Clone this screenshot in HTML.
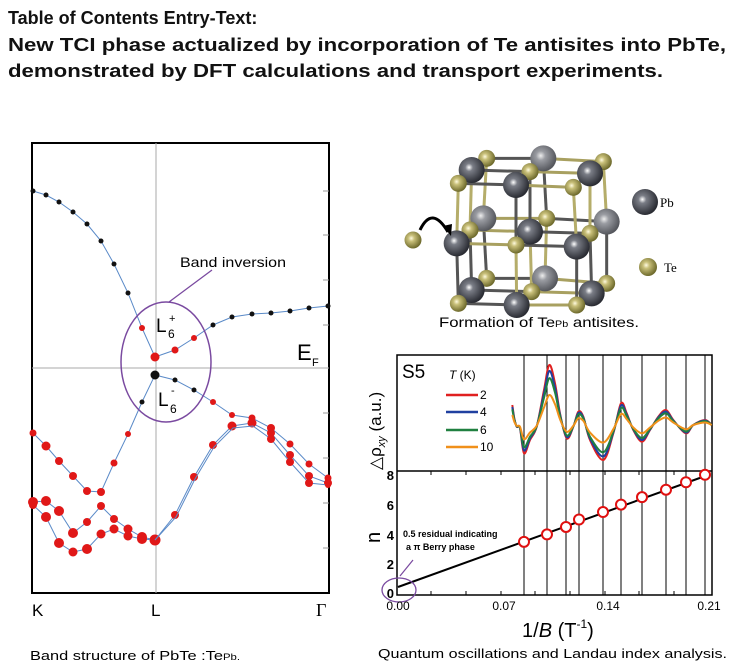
<!DOCTYPE html>
<html><head><meta charset="utf-8"><style>body{margin:0;background:#fff}svg{display:block}</style></head>
<body>
<svg id="s" width="733" height="668" viewBox="0 0 733 668" xmlns="http://www.w3.org/2000/svg" font-family="Liberation Sans, Arial, sans-serif">
<defs>
<radialGradient id="pb" cx="0.4" cy="0.4" r="0.6"><stop offset="0" stop-color="#fff"/><stop offset="0.25" stop-color="#7a7d86"/><stop offset="1" stop-color="#2a2c33"/></radialGradient>
<radialGradient id="pbl" cx="0.4" cy="0.4" r="0.6"><stop offset="0" stop-color="#eee"/><stop offset="0.3" stop-color="#9a9ca2"/><stop offset="1" stop-color="#55575d"/></radialGradient>
<radialGradient id="te" cx="0.4" cy="0.4" r="0.6"><stop offset="0" stop-color="#fffbe0"/><stop offset="0.3" stop-color="#c9c07a"/><stop offset="1" stop-color="#6e6a2c"/></radialGradient>
</defs>
<g font-weight="bold" font-size="18" fill="#111">
<text x="8" y="24">Table of Contents Entry-Text:</text>
<text x="8" y="51" textLength="718" lengthAdjust="spacingAndGlyphs">New TCI phase actualized by incorporation of Te antisites into PbTe,</text>
<text x="8" y="77" textLength="655" lengthAdjust="spacingAndGlyphs">demonstrated by DFT calculations and transport experiments.</text>
</g>
<rect x="32" y="143" width="297" height="450" fill="none" stroke="#000" stroke-width="2"/>
<line x1="156" y1="143" x2="156" y2="593" stroke="#aaa" stroke-width="1"/>
<line x1="32" y1="368" x2="329" y2="368" stroke="#aaa" stroke-width="1"/>
<g id="lt" stroke="#999" stroke-width="1"></g>
<g id="bands"></g>
<ellipse cx="166" cy="362" rx="45" ry="60" fill="none" stroke="#7a4aa0" stroke-width="1.5"/>
<line x1="169" y1="302" x2="212" y2="270" stroke="#7a4aa0" stroke-width="1.3"/>
<text x="180" y="267" font-size="14" textLength="106" lengthAdjust="spacingAndGlyphs">Band inversion</text>
<text x="156" y="332" font-size="19">L</text><text x="169" y="322" font-size="11">+</text><text x="168" y="338" font-size="12">6</text>
<text x="158" y="406" font-size="19">L</text><text x="171" y="394" font-size="11">-</text><text x="170" y="413" font-size="12">6</text>
<text x="297" y="360" font-size="22">E</text><text x="312" y="366" font-size="11">F</text>
<text x="32" y="616" font-size="17">K</text>
<text x="151" y="616" font-size="17">L</text>
<text x="316" y="616" font-size="18" font-family="Liberation Serif, serif">Γ</text>
<text x="30" y="660" font-size="13" textLength="210" lengthAdjust="spacingAndGlyphs">Band structure of PbTe :Te<tspan font-size="9">Pb.</tspan></text>
<g id="cry"></g>
<path d="M420 230 Q432 205 448 232" fill="none" stroke="#000" stroke-width="3"/>
<path d="M443 226 L451 236 L452 224 Z" fill="#000"/>
<circle cx="413" cy="240" r="8.5" fill="url(#te)"/>
<circle cx="645" cy="202" r="13" fill="url(#pb)"/>
<text x="660" y="207" font-size="13" font-family="Liberation Serif, serif">Pb</text>
<circle cx="648" cy="267" r="9" fill="url(#te)"/>
<text x="664" y="272" font-size="13" font-family="Liberation Serif, serif">Te</text>
<text x="439" y="327" font-size="14" textLength="200" lengthAdjust="spacingAndGlyphs">Formation of Te<tspan font-size="9">Pb</tspan> antisites.</text>
<rect x="397" y="355" width="315" height="240" fill="none" stroke="#000" stroke-width="1.5"/>
<line x1="397" y1="471" x2="712" y2="471" stroke="#000" stroke-width="1.5"/>
<g id="vl" stroke="#000" stroke-width="1"></g>
<g id="curves" fill="none" stroke-width="2"></g>
<line x1="398" y1="587" x2="708" y2="475" stroke="#000" stroke-width="2"/>
<g id="pts" fill="#fff" stroke="#e01010" stroke-width="2"></g>
<ellipse cx="399" cy="590" rx="17" ry="12" fill="none" stroke="#7a4aa0" stroke-width="1.3"/>
<line x1="400" y1="576" x2="413" y2="560" stroke="#7a4aa0" stroke-width="1.2"/>
<g font-size="9" font-weight="bold"><text x="403" y="537">0.5 residual indicating</text><text x="406" y="550">a π Berry phase</text></g>
<g font-size="13" font-weight="bold" text-anchor="end"><text x="394" y="480">8</text><text x="394" y="510">6</text><text x="394" y="540">4</text><text x="394" y="569">2</text><text x="394" y="598">0</text></g>
<g font-size="12" text-anchor="middle"><text x="398" y="610">0.00</text><text x="504" y="610">0.07</text><text x="608" y="610">0.14</text><text x="709" y="610">0.21</text></g>
<text x="522" y="637" font-size="20">1/<tspan font-style="italic">B</tspan> (T<tspan font-size="12" dy="-9">-1</tspan><tspan dy="9">)</tspan></text>
<text transform="translate(380,543) rotate(-90)" font-size="20">n</text>
<text transform="translate(381,470) rotate(-90)" font-size="17">△ρ<tspan font-size="11" font-style="italic" dy="4">xy</tspan><tspan dy="-4"> (a.u.)</tspan></text>
<text x="402" y="378" font-size="19">S5</text>
<text x="449" y="379" font-size="12"><tspan font-style="italic">T</tspan> (K)</text>
<g stroke-width="2.5"><line x1="446" y1="395" x2="478" y2="395" stroke="#e02020"/><line x1="446" y1="412" x2="478" y2="412" stroke="#2040a0"/><line x1="446" y1="430" x2="478" y2="430" stroke="#208040"/><line x1="446" y1="447" x2="478" y2="447" stroke="#f0901a"/></g>
<g font-size="12"><text x="480" y="399">2</text><text x="480" y="416">4</text><text x="480" y="434">6</text><text x="480" y="451">10</text></g>
<text x="378" y="658" font-size="13" textLength="349" lengthAdjust="spacingAndGlyphs">Quantum oscillations and Landau index analysis.</text>
</svg>
<script>
var NS="http://www.w3.org/2000/svg";
function el(p,t,a){var e=document.createElementNS(NS,t);for(var k in a)e.setAttribute(k,a[k]);document.getElementById(p).appendChild(e);return e;}
[191,235,280,325,413,458,503,548].forEach(function(y){el("lt","line",{x1:323,y1:y,x2:329,y2:y});});
function band(pts){var d=pts.map(function(p,i){return (i?"L":"M")+p[0]+" "+p[1]}).join(" ");el("bands","path",{d:d,fill:"none",stroke:"#5a8ac8","stroke-width":1});
pts.forEach(function(p){if(p[2])el("bands","circle",{cx:p[0],cy:p[1],r:p[2],fill:p[3]||"#e01818"});});}
var K="#111";
band([[33,191,2.5,K],[46,195,2.5,K],[59,202,2.5,K],[73,212,2.5,K],[87,224,2.5,K],[101,241,2.5,K],[114,264,2.5,K],[128,293,2.5,K],[142,328,3],[155,357,4.5],[175,350,3.5],[194,338,3],[213,325,2.5,K],[232,317,2.5,K],[252,314,2.5,K],[271,313,2.5,K],[290,311,2.5,K],[309,308,2.5,K],[328,306,2.5,K]]);
band([[33,433,3.5],[46,446,4.5],[59,461,4],[73,476,4],[87,491,4],[101,492,4],[114,463,3.5],[128,434,3],[142,402,2.5,K],[155,375,4.5,K],[175,380,2.5,K],[194,390,2.5,K],[213,402,3],[232,415,3],[252,418,3.5],[271,428,4],[290,444,3.5],[309,464,3.5],[328,478,3.5]]);
band([[33,502,5],[46,501,5],[59,511,5],[73,533,5],[87,522,4],[101,506,4],[114,519,4],[128,529,4.5],[142,537,5],[155,540,5.5]]);
band([[33,505,4],[46,517,5],[59,543,5],[73,552,4.5],[87,549,5],[101,534,4.5],[114,529,4.5],[128,536,4.5],[142,539,5],[155,540,5]]);
band([[155,540],[175,515,4],[194,477,4],[213,445,4],[232,426,4.5],[252,423,4.5],[271,433,4],[290,455,4],[309,476,4],[328,483,4]]);
band([[155,540],[176,517],[195,479],[214,447],[233,428],[253,426],[271,439,4],[290,462,4],[309,483,4],[328,485,3]]);
function P(zx,zy){return [zx/3+390,zy/3+130];}
var layers=[
 {pts:[[290,85,'T'],[460,85,'P'],[640,95,'T'],[280,265,'P'],[470,265,'T'],[650,275,'P'],[290,445,'T'],[465,445,'P'],[650,460,'T']]},
 {pts:[[245,120,'P'],[420,125,'T'],[600,130,'P'],[240,300,'T'],[420,305,'P'],[600,310,'T'],[245,480,'P'],[425,485,'T'],[605,490,'P']]},
 {pts:[[205,160,'T'],[378,165,'P'],[550,172,'T'],[200,340,'P'],[378,345,'T'],[560,350,'P'],[205,520,'T'],[380,525,'P'],[560,525,'T']]}];
for(var l=0;l<3;l++){var q=layers[l].pts;for(var i=0;i<9;i++){var a=P(q[i][0],q[i][1]);
 if(i%3<2){var b=P(q[i+1][0],q[i+1][1]);el("cry","line",{x1:a[0],y1:a[1],x2:b[0],y2:b[1],stroke:i%2?"#a8a060":"#555",'stroke-width':3});}
 if(i<6){var b=P(q[i+3][0],q[i+3][1]);el("cry","line",{x1:a[0],y1:a[1],x2:b[0],y2:b[1],stroke:i%2?"#555":"#b5ad6a",'stroke-width':3});}
 if(l<2){var r=layers[l+1].pts[i];var b=P(r[0],r[1]);el("cry","line",{x1:a[0],y1:a[1],x2:b[0],y2:b[1],stroke:"#777",'stroke-width':3});}}}
for(var l=0;l<3;l++){layers[l].pts.forEach(function(p){var c=P(p[0],p[1]);
 if(p[2]=='P')el("cry","circle",{cx:c[0],cy:c[1],r:13,fill:l==0?"url(#pbl)":"url(#pb)"});
 else el("cry","circle",{cx:c[0],cy:c[1],r:8.5,fill:"url(#te)"});});}
var xs=[524,547,566,579,603,621,642,666,686,705];
xs.forEach(function(x,i){el("vl","line",{x1:x,y1:355,x2:x,y2:595});var n=3.5+0.5*i;el("pts","circle",{cx:x,cy:594-n*14.9,r:5});});
[431,466,501,535,570,605,639,674].forEach(function(x){el("vl","line",{x1:x,y1:471,x2:x,y2:475});el("vl","line",{x1:x,y1:595,x2:x,y2:591});});
var raw=[[457,195],[463,235],[470,260],[480,265],[492,340],[510,300],[530,260],[552,150],[568,75],[585,130],[600,220],[620,295],[640,260],[655,215],[670,230],[690,300],[730,360],[760,280],[783,190],[800,220],[820,270],[846,305],[870,270],[895,230],[918,210],[940,240],[977,280],[1000,255],[1035,240],[1055,255]];
function smooth(p){var d="M"+p[0][0].toFixed(1)+" "+p[0][1].toFixed(1);
 for(var i=0;i<p.length-1;i++){var p0=p[Math.max(0,i-1)],p1=p[i],p2=p[i+1],p3=p[Math.min(p.length-1,i+2)];
 d+=" C"+(p1[0]+(p2[0]-p0[0])/6).toFixed(1)+" "+(p1[1]+(p2[1]-p0[1])/6).toFixed(1)+" "+(p2[0]-(p3[0]-p1[0])/6).toFixed(1)+" "+(p2[1]-(p3[1]-p1[1])/6).toFixed(1)+" "+p2[0].toFixed(1)+" "+p2[1].toFixed(1);}
 return d;}
[["#e02020",1],["#2040a0",0.9],["#208040",0.78],["#f0901a",0.5]].forEach(function(c){
 var pts=raw.map(function(p){var y=255+(p[1]-255)*c[1];return [p[0]/3+360,y/3+340];});
 el("curves","path",{d:smooth(pts),stroke:c[0]});});
</script>
</body></html>
